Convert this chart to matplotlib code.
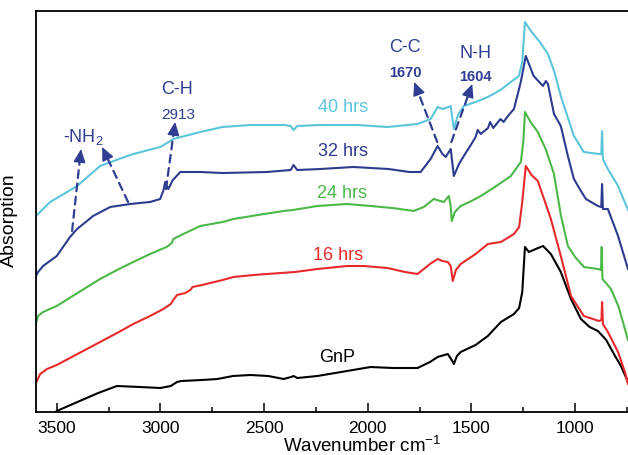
import numpy as np
import matplotlib
matplotlib.use("Agg")
import matplotlib.pyplot as plt
from matplotlib.ticker import MultipleLocator

plt.rcParams['font.family'] = ['Liberation Sans', 'DejaVu Sans']
plt.rcParams['mathtext.default'] = 'regular'

# FTIR spectra: (wavenumber, absorption in arbitrary units)
gnp = [(3520, -3), (3500, 1), (3400, 10), (3300, 19), (3210, 26), (3100, 25), (3000, 24),
       (2950, 26), (2920, 30), (2900, 31), (2800, 32), (2725, 33), (2650, 36), (2566, 37),
       (2480, 36), (2406, 33), (2370, 35), (2358, 36), (2340, 34), (2243, 36), (2100, 41),
       (1986, 45), (1880, 44), (1760, 44), (1700, 50), (1663, 55), (1614, 58), (1595, 52),
       (1585, 48), (1570, 56), (1552, 60), (1480, 67), (1421, 76), (1358, 90), (1295, 98),
       (1270, 104), (1255, 120), (1242, 165), (1223, 160), (1190, 163), (1155, 166),
       (1117, 158), (1069, 140), (1020, 113), (972, 93), (930, 85), (890, 81), (850, 72),
       (813, 58), (779, 46), (745, 30)]

h16 = [(3600, 29), (3580, 38), (3547, 43), (3500, 47), (3400, 58), (3291, 70), (3200, 80),
       (3131, 88), (3050, 96), (2986, 103), (2950, 108), (2938, 112), (2920, 117),
       (2880, 119), (2856, 122), (2845, 125), (2800, 127), (2700, 132), (2648, 135),
       (2550, 137), (2487, 138), (2350, 140), (2243, 143), (2100, 146), (2020, 146),
       (1905, 144), (1820, 140), (1760, 138), (1700, 148), (1663, 153), (1640, 151),
       (1614, 150), (1600, 146), (1590, 131), (1575, 142), (1552, 148), (1480, 158),
       (1421, 168), (1358, 170), (1295, 178), (1270, 185), (1255, 210), (1238, 246),
       (1210, 237), (1180, 231), (1150, 213), (1117, 193), (1069, 156), (1020, 116),
       (958, 96), (885, 91), (873, 92), (870, 110), (866, 88), (842, 80), (793, 60),
       (760, 40), (745, 28)]

h24 = [(3600, 89), (3590, 96), (3566, 100), (3500, 106), (3400, 119), (3291, 133),
       (3200, 143), (3131, 150), (3050, 158), (2970, 165), (2945, 169), (2938, 173),
       (2900, 177), (2808, 186), (2700, 190), (2648, 193), (2500, 198), (2406, 201),
       (2360, 202), (2243, 206), (2100, 208), (1986, 206), (1880, 204), (1779, 201),
       (1730, 205), (1682, 213), (1650, 211), (1633, 210), (1609, 216), (1600, 206),
       (1595, 191), (1580, 200), (1552, 206), (1500, 211), (1455, 216), (1380, 226),
       (1310, 236), (1262, 250), (1250, 270), (1242, 300), (1215, 290), (1180, 280),
       (1140, 262), (1102, 238), (1069, 197), (1035, 166), (1000, 155), (958, 145),
       (890, 143), (875, 142), (872, 165), (868, 133), (827, 123), (790, 105), (745, 72)]

h32 = [(3600, 136), (3590, 140), (3566, 146), (3500, 156), (3436, 175), (3402, 183),
       (3360, 190), (3325, 196), (3242, 205), (3146, 208), (3050, 210), (3001, 213),
       (2985, 222), (2977, 230), (2962, 223), (2940, 232), (2904, 240), (2850, 240),
       (2808, 240), (2700, 239), (2487, 240), (2372, 242), (2358, 247), (2340, 242),
       (2228, 243), (2069, 245), (1900, 243), (1800, 240), (1745, 240), (1697, 253),
       (1663, 266), (1640, 258), (1624, 255), (1600, 263), (1585, 236), (1560, 248),
       (1537, 256), (1500, 268), (1480, 275), (1470, 282), (1455, 278), (1420, 284),
       (1410, 290), (1395, 284), (1360, 293), (1345, 290), (1324, 296), (1295, 303),
       (1262, 330), (1238, 356), (1200, 336), (1155, 326), (1141, 331), (1131, 328),
       (1102, 298), (1069, 286), (1035, 256), (1006, 233), (972, 221), (948, 213),
       (890, 206), (874, 205), (870, 228), (866, 203), (842, 203), (793, 176), (745, 143)]

h40 = [(3600, 196), (3532, 210), (3450, 220), (3402, 226), (3291, 246), (3200, 253),
       (3131, 258), (3001, 265), (2960, 270), (2938, 273), (2808, 280), (2700, 285),
       (2566, 287), (2400, 287), (2372, 286), (2358, 282), (2340, 286), (2228, 287),
       (2050, 287), (1905, 285), (1760, 288), (1697, 293), (1663, 305), (1640, 303),
       (1609, 305), (1600, 306), (1585, 283), (1565, 297), (1537, 306), (1480, 310),
       (1421, 315), (1360, 322), (1310, 330), (1271, 336), (1255, 350), (1242, 390),
       (1213, 381), (1170, 370), (1131, 358), (1100, 340), (1069, 316), (1006, 276),
       (958, 260), (885, 258), (874, 258), (870, 281), (866, 253), (842, 243),
       (793, 226), (745, 202)]

series = [gnp, h16, h24, h32, h40]
names = ["GnP", "16 hrs", "24 hrs", "32 hrs", "40 hrs"]
colors = ["#000000", "#E8292B", "#4CB848", "#2D3B8E", "#5BC5DA"]
label_pos = [(2147, 55), (2143, 158), (2123, 220), (2118, 261), (2118, 306)]

navy = "#2F3D92"
# peak annotations: text, position, size, weight
peak_text = [("-NH$_2$", (3373, 276), 13, "normal"),
             ("C-H", (2920, 323), 13, "normal"),
             ("2913", (2915, 298), 11, "normal"),
             ("C-C", (1819, 365), 13, "normal"),
             ("1670", (1819, 340), 10.5, "bold"),
             ("N-H", (1481, 360), 13, "normal"),
             ("1604", (1481, 336), 10.5, "bold")]
# dashed arrows: (tail, head)
arrows = [((3426, 181), (3383, 263)),
          ((3156, 210), (3281, 265)),
          ((2973, 223), (2929, 290)),
          ((1665, 270), (1776, 330)),
          ((1597, 270), (1496, 328))]

fig = plt.figure(figsize=(6.28, 4.56), dpi=100)
ax = fig.add_axes([36 / 628, 43 / 456, 592 / 628, 401 / 456])

for data, c in zip(series, colors):
    arr = np.array(data)
    ax.plot(arr[:, 0], arr[:, 1], color=c, lw=1.5)

for name, c, (x, y) in zip(names, colors, label_pos):
    ax.text(x, y, name, color=c, fontsize=13, ha="center", va="center")

for txt, (x, y), fs, fw in peak_text:
    ax.text(x, y, txt, color=navy, fontsize=fs, fontweight=fw, ha="center", va="center")

for tail, head in arrows:
    ax.annotate("", xy=head, xytext=tail,
                arrowprops=dict(arrowstyle="-", color=navy, lw=1.6,
                                linestyle=(0, (3.5, 2.5)), shrinkA=0, shrinkB=6))
    ax.annotate("", xy=head, xytext=(head[0] + (tail[0] - head[0]) * 0.12,
                                     head[1] + (tail[1] - head[1]) * 0.12),
                arrowprops=dict(arrowstyle="-|>,head_length=0.55,head_width=0.25",
                                color=navy, lw=1.0, shrinkA=0, shrinkB=0,
                                mutation_scale=15))

ax.set_xlim(3600, 745)
ax.set_ylim(0, 401)
ax.xaxis.set_major_locator(MultipleLocator(500))
ax.xaxis.set_minor_locator(MultipleLocator(250))
ax.tick_params(axis="x", which="major", direction="in", length=6.5, width=1.1,
               labelsize=12.5, pad=5.5)
ax.tick_params(axis="x", which="minor", direction="in", length=3.6, width=1.1)
ax.set_yticks([])
for s in ["left", "bottom", "top"]:
    ax.spines[s].set_linewidth(1.3)
ax.spines["right"].set_visible(False)

ax.set_xlabel("Wavenumber cm$^{-1}$", fontsize=13.5)
ax.xaxis.set_label_coords((362 - 36) / 592, -0.058)
ax.set_ylabel("Absorption", fontsize=14)
ax.yaxis.set_label_coords(-0.031, 0.48)

fig.savefig("out.png", dpi=100)
